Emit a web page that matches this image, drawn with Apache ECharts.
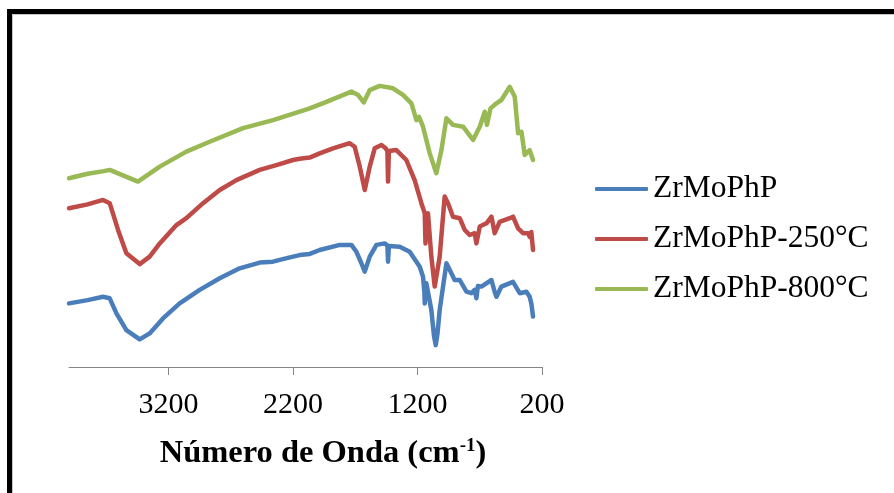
<!DOCTYPE html>
<html>
<head>
<meta charset="utf-8">
<title>FTIR ZrMoPhP</title>
<script src="https://cdn.jsdelivr.net/npm/echarts@6/dist/echarts.min.js"></script>
<style>
  html, body { margin: 0; padding: 0; background: #fff; }
  #chart { width: 894px; height: 493px; }
</style>
</head>
<body>
<div id="chart"></div>
<script>
// FTIR spectra: [wavenumber (cm-1), transmittance (a.u., stacked)]
const seriesNames = ['ZrMoPhP', 'ZrMoPhP-250°C', 'ZrMoPhP-800°C'];
const seriesColors = ['#4A7EBB', '#BE4B48', '#98B954'];
const xTickValues = [3200, 2200, 1200, 200];

const zrMoPhP = [
  [4000, 21.2], [3850, 22.3], [3727, 23.4], [3673, 22.9], [3619, 17.9], [3539, 12.3],
  [3432, 9.2], [3352, 11.2], [3245, 16.2], [3111, 21.2], [2950, 25.7], [2789, 29.6],
  [2629, 32.9], [2468, 34.8], [2361, 35.1], [2307, 35.7], [2200, 36.8], [2147, 37.3],
  [2066, 37.7], [1986, 39.0], [1825, 40.7], [1731, 40.7], [1691, 38.4], [1650, 34.5],
  [1624, 31.8], [1600, 34.8], [1584, 36.8], [1530, 40.7], [1464, 41.2], [1442, 40.5],
  [1437, 35.1], [1430, 40.3], [1424, 40.1], [1343, 40.1], [1263, 38.4], [1182, 33.4],
  [1156, 30.1], [1145, 25.0], [1142, 21.2], [1136, 26.0], [1129, 27.9], [1089, 19.0],
  [1068, 10.5], [1054, 7.3], [1040, 11.0], [1022, 19.0], [968, 34.6], [941, 32.3],
  [902, 29.0], [861, 29.0], [807, 25.1], [767, 24.6], [741, 25.7], [727, 22.9],
  [715, 27.0], [687, 26.8], [606, 29.0], [580, 25.0], [566, 23.4], [526, 26.8],
  [433, 28.4], [379, 24.6], [325, 25.1], [299, 23.4], [285, 21.0], [272, 16.8]
];

const zrMoPhP250 = [
  [4000, 52.9], [3850, 54.2], [3727, 55.7], [3673, 54.6], [3606, 45.7], [3539, 37.9],
  [3432, 34.3], [3352, 36.8], [3271, 41.2], [3137, 47.3], [3057, 49.6], [2923, 54.6],
  [2789, 59.0], [2655, 62.3], [2468, 65.7], [2334, 67.3], [2200, 69.0], [2147, 69.4],
  [2066, 69.8], [1986, 71.2], [1879, 72.9], [1745, 74.6], [1705, 73.4], [1664, 66.8],
  [1624, 59.0], [1584, 66.8], [1544, 72.9], [1490, 74.0], [1456, 72.9], [1442, 72.0],
  [1437, 61.8], [1430, 72.0], [1424, 72.3], [1370, 72.3], [1290, 69.0], [1223, 62.3],
  [1169, 54.6], [1142, 51.2], [1136, 41.2], [1128, 50.5], [1116, 51.2], [1089, 36.8],
  [1062, 26.8], [1022, 36.8], [982, 56.8], [955, 54.6], [915, 50.1], [861, 49.6],
  [821, 45.7], [781, 44.0], [741, 44.6], [727, 41.2], [700, 46.8], [646, 47.9],
  [606, 50.1], [580, 44.6], [540, 48.4], [459, 49.6], [433, 50.1], [392, 46.2],
  [352, 44.6], [312, 44.6], [299, 43.4], [286, 45.0], [272, 39.0]
];

const zrMoPhP800 = [
  [4000, 62.9], [3850, 64.4], [3720, 65.3], [3673, 65.7], [3446, 61.8], [3271, 66.8],
  [3057, 71.8], [2870, 75.1], [2602, 79.6], [2361, 82.3], [2147, 85.1], [2066, 86.2],
  [1932, 88.4], [1731, 91.8], [1678, 90.7], [1632, 88.2], [1584, 92.3], [1504, 93.7],
  [1397, 92.9], [1317, 90.7], [1249, 87.9], [1209, 82.3], [1188, 83.4], [1156, 80.1],
  [1102, 71.2], [1049, 64.6], [1008, 72.3], [968, 82.9], [941, 81.8], [915, 80.7],
  [834, 80.1], [754, 75.7], [700, 80.1], [660, 85.1], [642, 80.7], [614, 86.2],
  [566, 87.9], [526, 89.0], [459, 93.4], [419, 90.1], [392, 77.9], [365, 78.4],
  [339, 70.7], [299, 72.3], [272, 69.0]
];

const spectra = [zrMoPhP, zrMoPhP250, zrMoPhP800];
const serif = '"Liberation Serif", "Times New Roman", serif';

const chart = echarts.init(document.getElementById('chart'), null, { renderer: 'canvas' });

chart.setOption({
  animation: false,
  backgroundColor: '#ffffff',
  grid: { left: 69, right: 352, top: 67, bottom: 126 },
  xAxis: {
    type: 'value',
    min: 200,
    max: 4000,
    inverse: true,
    splitLine: { show: false },
    axisLine: { show: true, onZero: false, lineStyle: { color: '#878787', width: 1 } },
    axisTick: { show: true, length: 8, inside: false, customValues: xTickValues,
                lineStyle: { color: '#878787', width: 1 } },
    axisLabel: { customValues: xTickValues, margin: 23, color: '#000',
                 fontFamily: serif, fontSize: 30, lineHeight: 30,
                 formatter: (v) => String(v) }
  },
  yAxis: {
    type: 'value',
    min: 0,
    max: 100,
    show: false,
    splitLine: { show: false }
  },
  legend: {
    orient: 'vertical',
    left: 595,
    top: 173,
    padding: 0,
    icon: 'roundRect',
    itemWidth: 53,
    itemHeight: 4,
    itemGap: 18,
    data: seriesNames,
    textStyle: { fontFamily: serif, fontSize: 31.5, lineHeight: 30, color: '#000' }
  },
  graphic: [
    {
      type: 'rect',
      shape: { x: 9.5, y: 11.5, width: 1000, height: 1000 },
      style: { fill: null, stroke: '#000', lineWidth: 5 }
    },
    {
      type: 'rect',
      shape: { x: 12.5, y: 14.5, width: 1000, height: 1000 },
      style: { fill: null, stroke: '#c8c8c8', lineWidth: 1 }
    },
    {
      type: 'text',
      x: 323,
      y: 454,
      style: {
        text: '{a|Número de Onda (cm}{s|-1}{a|)}',
        align: 'center',
        verticalAlign: 'middle',
        rich: {
          a: { fontFamily: serif, fontSize: 32.5, fontWeight: 'bold', fill: '#000', lineHeight: 34 },
          s: { fontFamily: serif, fontSize: 19, fontWeight: 'bold', fill: '#000',
               verticalAlign: 'top', lineHeight: 34, padding: [0, 0, 12, 0] }
        }
      }
    }
  ],
  series: spectra.map((d, i) => ({
    name: seriesNames[i],
    type: 'line',
    data: d,
    showSymbol: false,
    symbol: 'none',
    smooth: false,
    color: seriesColors[i],
    lineStyle: { width: 4.5, color: seriesColors[i], cap: 'round', join: 'round' }
  }))
});
</script>
</body>
</html>
